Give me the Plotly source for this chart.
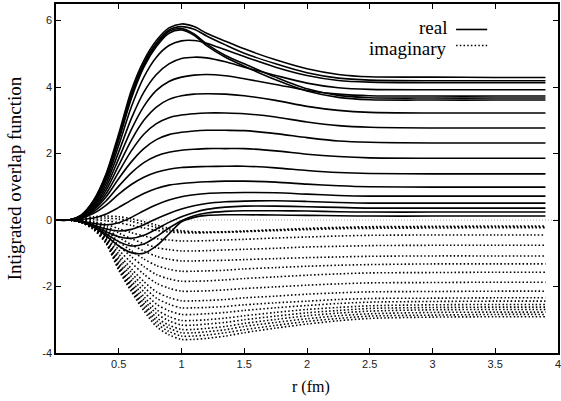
import plotly.graph_objects as go

r_fm = [0, 0.1, 0.2, 0.3, 0.4, 0.5, 0.6, 0.7, 0.8, 0.9, 1.0, 1.1, 1.2, 1.35, 1.5, 1.75, 2.0, 2.25, 2.5, 3.0, 3.5, 3.9]

real_curves = [
    [0, 0, 0.15, 0.60, 1.40, 2.60, 3.90, 4.80, 5.40, 5.78, 5.90, 5.82, 5.62, 5.38, 5.15, 4.82, 4.55, 4.38, 4.31, 4.30, 4.29, 4.29],
    [0, 0, 0.14, 0.58, 1.36, 2.52, 3.80, 4.72, 5.33, 5.72, 5.82, 5.74, 5.54, 5.27, 5.02, 4.70, 4.43, 4.27, 4.21, 4.19, 4.19, 4.19],
    [0, 0, 0.13, 0.56, 1.32, 2.46, 3.72, 4.66, 5.28, 5.68, 5.76, 5.60, 5.30, 4.95, 4.70, 4.30, 3.95, 3.75, 3.68, 3.67, 3.67, 3.67],
    [0, 0, 0.13, 0.54, 1.28, 2.40, 3.65, 4.60, 5.22, 5.62, 5.72, 5.56, 5.25, 4.90, 4.63, 4.22, 3.88, 3.69, 3.62, 3.61, 3.61, 3.61],
    [0, 0, 0.12, 0.50, 1.20, 2.25, 3.40, 4.30, 4.90, 5.25, 5.39, 5.40, 5.32, 5.12, 4.92, 4.60, 4.35, 4.20, 4.15, 4.13, 4.13, 4.13],
    [0, 0, 0.11, 0.46, 1.10, 2.05, 3.05, 3.85, 4.38, 4.70, 4.86, 4.90, 4.88, 4.76, 4.60, 4.35, 4.12, 3.98, 3.93, 3.92, 3.92, 3.92],
    [0, 0, 0.10, 0.42, 1.00, 1.85, 2.72, 3.42, 3.90, 4.17, 4.30, 4.36, 4.38, 4.34, 4.25, 4.08, 3.90, 3.79, 3.74, 3.73, 3.73, 3.73],
    [0, 0, 0.09, 0.38, 0.90, 1.65, 2.40, 3.00, 3.40, 3.63, 3.74, 3.79, 3.80, 3.79, 3.74, 3.60, 3.42, 3.30, 3.24, 3.22, 3.22, 3.22],
    [0, 0, 0.08, 0.34, 0.80, 1.45, 2.08, 2.58, 2.90, 3.08, 3.16, 3.20, 3.22, 3.22, 3.20, 3.10, 2.95, 2.84, 2.79, 2.77, 2.77, 2.77],
    [0, 0, 0.07, 0.30, 0.70, 1.25, 1.75, 2.15, 2.42, 2.57, 2.64, 2.68, 2.70, 2.70, 2.69, 2.60, 2.48, 2.38, 2.34, 2.32, 2.32, 2.32],
    [0, 0, 0.06, 0.25, 0.58, 1.02, 1.42, 1.73, 1.93, 2.04, 2.10, 2.13, 2.15, 2.15, 2.15, 2.08, 1.98, 1.91, 1.87, 1.86, 1.86, 1.86],
    [0, 0, 0.05, 0.20, 0.45, 0.78, 1.07, 1.29, 1.44, 1.53, 1.58, 1.60, 1.61, 1.62, 1.62, 1.57, 1.49, 1.43, 1.40, 1.39, 1.39, 1.39],
    [0, 0, 0.02, 0.06, 0.18, 0.38, 0.60, 0.80, 0.95, 1.05, 1.10, 1.13, 1.15, 1.17, 1.17, 1.14, 1.08, 1.03, 1.00, 0.99, 0.99, 0.99],
    [0, 0, -0.03, -0.10, -0.14, -0.08, 0.08, 0.28, 0.46, 0.60, 0.70, 0.76, 0.80, 0.82, 0.83, 0.82, 0.78, 0.74, 0.72, 0.72, 0.72, 0.72],
    [0, 0, -0.04, -0.15, -0.27, -0.33, -0.28, -0.14, 0.04, 0.20, 0.33, 0.43, 0.50, 0.55, 0.57, 0.58, 0.56, 0.53, 0.51, 0.51, 0.51, 0.51],
    [0, 0, -0.05, -0.18, -0.35, -0.50, -0.55, -0.46, -0.27, -0.07, 0.10, 0.23, 0.32, 0.39, 0.42, 0.42, 0.40, 0.38, 0.36, 0.36, 0.36, 0.36],
    [0, 0, -0.05, -0.20, -0.42, -0.65, -0.78, -0.72, -0.50, -0.24, -0.02, 0.13, 0.21, 0.26, 0.28, 0.28, 0.27, 0.25, 0.24, 0.24, 0.24, 0.24],
    [0, 0, -0.05, -0.22, -0.48, -0.78, -0.98, -1.00, -0.78, -0.42, -0.05, 0.08, 0.14, 0.16, 0.16, 0.15, 0.14, 0.13, 0.12, 0.12, 0.12, 0.12],
]

imag_curves = [
    [0, 0, 0.04, 0.10, 0.12, 0.10, 0.04, -0.05, -0.15, -0.25, -0.32, -0.35, -0.36, -0.35, -0.33, -0.29, -0.25, -0.22, -0.20, -0.19, -0.18, -0.18],
    [0, 0, 0.03, 0.06, 0.06, 0.03, -0.04, -0.13, -0.22, -0.30, -0.35, -0.37, -0.37, -0.36, -0.34, -0.30, -0.27, -0.24, -0.22, -0.21, -0.20, -0.20],
    [0, 0, 0.01, 0.01, -0.02, -0.08, -0.16, -0.24, -0.31, -0.36, -0.38, -0.39, -0.38, -0.37, -0.35, -0.32, -0.29, -0.26, -0.25, -0.24, -0.23, -0.23],
    [0, 0, -0.01, -0.05, -0.13, -0.26, -0.38, -0.48, -0.56, -0.60, -0.63, -0.63, -0.62, -0.60, -0.58, -0.54, -0.51, -0.48, -0.46, -0.45, -0.45, -0.45],
    [0, 0, -0.02, -0.07, -0.19, -0.39, -0.56, -0.71, -0.83, -0.89, -0.93, -0.93, -0.92, -0.90, -0.88, -0.85, -0.81, -0.79, -0.77, -0.76, -0.76, -0.76],
    [0, 0, -0.02, -0.10, -0.25, -0.52, -0.74, -0.93, -1.09, -1.18, -1.23, -1.23, -1.22, -1.21, -1.19, -1.16, -1.13, -1.11, -1.09, -1.08, -1.08, -1.08],
    [0, 0, -0.03, -0.12, -0.31, -0.65, -0.92, -1.17, -1.37, -1.48, -1.54, -1.54, -1.53, -1.51, -1.47, -1.43, -1.39, -1.36, -1.34, -1.32, -1.32, -1.32],
    [0, 0, -0.04, -0.15, -0.37, -0.77, -1.10, -1.40, -1.64, -1.77, -1.84, -1.84, -1.83, -1.80, -1.76, -1.71, -1.66, -1.62, -1.59, -1.58, -1.57, -1.57],
    [0, 0, -0.04, -0.17, -0.43, -0.90, -1.28, -1.63, -1.90, -2.05, -2.14, -2.14, -2.13, -2.10, -2.06, -2.01, -1.96, -1.92, -1.89, -1.88, -1.87, -1.87],
    [0, 0, -0.05, -0.19, -0.49, -1.02, -1.46, -1.85, -2.16, -2.33, -2.43, -2.43, -2.42, -2.39, -2.34, -2.29, -2.23, -2.19, -2.16, -2.15, -2.14, -2.14],
    [0, 0, -0.05, -0.21, -0.53, -1.11, -1.58, -2.01, -2.35, -2.53, -2.64, -2.64, -2.63, -2.60, -2.55, -2.49, -2.44, -2.39, -2.36, -2.35, -2.34, -2.34],
    [0, 0, -0.06, -0.23, -0.57, -1.19, -1.70, -2.16, -2.53, -2.73, -2.84, -2.84, -2.82, -2.78, -2.72, -2.64, -2.57, -2.51, -2.47, -2.45, -2.44, -2.44],
    [0, 0, -0.06, -0.24, -0.60, -1.27, -1.81, -2.30, -2.69, -2.90, -3.02, -3.02, -3.00, -2.95, -2.88, -2.78, -2.69, -2.63, -2.58, -2.55, -2.54, -2.54],
    [0, 0, -0.06, -0.25, -0.63, -1.33, -1.90, -2.40, -2.81, -3.03, -3.16, -3.16, -3.13, -3.08, -3.00, -2.89, -2.79, -2.72, -2.66, -2.63, -2.62, -2.62],
    [0, 0, -0.07, -0.26, -0.66, -1.38, -1.97, -2.50, -2.93, -3.16, -3.29, -3.29, -3.26, -3.20, -3.11, -2.99, -2.88, -2.80, -2.74, -2.70, -2.69, -2.69],
    [0, 0, -0.07, -0.27, -0.68, -1.42, -2.03, -2.58, -3.02, -3.25, -3.39, -3.39, -3.36, -3.30, -3.20, -3.08, -2.97, -2.88, -2.82, -2.78, -2.77, -2.77],
    [0, 0, -0.07, -0.28, -0.70, -1.47, -2.09, -2.65, -3.11, -3.35, -3.49, -3.49, -3.46, -3.39, -3.30, -3.17, -3.05, -2.96, -2.89, -2.86, -2.84, -2.84],
    [0, 0, -0.07, -0.29, -0.72, -1.51, -2.15, -2.73, -3.20, -3.45, -3.59, -3.59, -3.56, -3.49, -3.39, -3.25, -3.13, -3.03, -2.96, -2.92, -2.91, -2.91],
]

x_ticks = [0.5, 1, 1.5, 2, 2.5, 3, 3.5, 4]
x_tick_labels = ["0.5", "1", "1.5", "2", "2.5", "3", "3.5", "4"]
y_ticks = [-4, -2, 0, 2, 4, 6]
y_tick_labels = ["-4", "-2", "0", "2", "4", "6"]

fig = go.Figure()

for ys in imag_curves:
    fig.add_trace(go.Scatter(x=r_fm, y=ys, mode="lines",
                             line=dict(color="black", width=1.6, dash="1.5px,2.2px", shape="spline", smoothing=0.8),
                             showlegend=False, hoverinfo="skip"))
for ys in real_curves:
    fig.add_trace(go.Scatter(x=r_fm, y=ys, mode="lines",
                             line=dict(color="black", width=1.6, shape="spline", smoothing=0.8),
                             showlegend=False, hoverinfo="skip"))

# zero axis (gnuplot style)
fig.add_shape(type="line", xref="paper", yref="y", x0=0, x1=1, y0=0, y1=0,
              line=dict(color="#aaaaaa", width=1, dash="1px,2px"), layer="below")

serif = "Liberation Serif, Times New Roman, serif"
sans = "Liberation Sans, Arial, sans-serif"

# legend, gnuplot style (text then sample)
fig.add_annotation(xref="paper", yref="paper", x=0.782, y=0.932, text="real",
                   showarrow=False, xanchor="right", yanchor="middle",
                   font=dict(family=serif, size=19, color="black"))
fig.add_annotation(xref="paper", yref="paper", x=0.782, y=0.872, text="imaginary",
                   showarrow=False, xanchor="right", yanchor="middle",
                   font=dict(family=serif, size=19, color="black"))
fig.add_shape(type="line", xref="paper", yref="paper", x0=0.797, x1=0.859, y0=0.927, y1=0.927,
              line=dict(color="black", width=1.6))
fig.add_shape(type="line", xref="paper", yref="paper", x0=0.797, x1=0.859, y0=0.881, y1=0.881,
              line=dict(color="black", width=1.6, dash="1.5px,2.2px"))

# axis titles
fig.add_annotation(xref="paper", yref="paper", x=0.508, y=-0.097, text="r (fm)",
                   showarrow=False, xanchor="center", yanchor="middle",
                   font=dict(family=serif, size=16, color="black"))
fig.add_annotation(xref="paper", yref="paper", x=-0.082, y=0.5, text="Intigrated overlap function",
                   showarrow=False, xanchor="center", yanchor="middle", textangle=-90,
                   font=dict(family=serif, size=19, color="black"))

fig.update_layout(
    width=561, height=401,
    margin=dict(l=56, r=3, t=4, b=48),
    paper_bgcolor="white", plot_bgcolor="white",
    font=dict(family=sans, size=11, color="#222"),
    xaxis=dict(range=[0, 4], tickvals=x_ticks, ticktext=x_tick_labels,
               ticks="inside", ticklen=5, tickwidth=1, tickcolor="black",
               showline=True, linecolor="black", linewidth=1.5, mirror="allticks",
               showgrid=False, zeroline=False, automargin=False,
               ticklabeloverflow="allow",
               tickfont=dict(family=sans, size=11, color="#222")),
    yaxis=dict(range=[-4, 6.5], tickvals=y_ticks, ticktext=y_tick_labels,
               ticks="inside", ticklen=5, tickwidth=1, tickcolor="black",
               showline=True, linecolor="black", linewidth=1.5, mirror="allticks",
               showgrid=False, zeroline=False, automargin=False,
               tickfont=dict(family=sans, size=11, color="#222")),
)

fig.write_html("out.html", config={"displayModeBar": False},
               post_script="document.body.style.margin='0';document.body.style.overflow='hidden';")
